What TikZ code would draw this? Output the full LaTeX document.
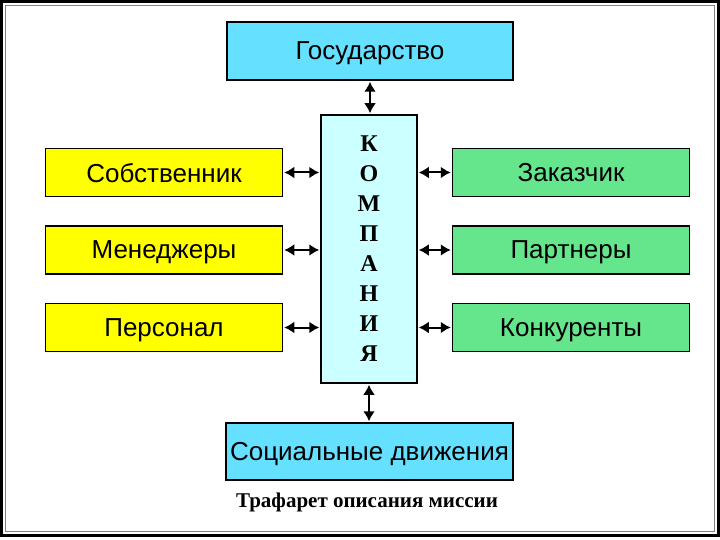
\documentclass[tikz,border=0pt]{standalone}
\usepackage{fontspec}
\setmainfont{Liberation Serif}
\setsansfont{Liberation Sans}
\usepackage{xcolor}
\usetikzlibrary{arrows.meta, positioning}

\definecolor{gosBlue}{RGB}{102,224,255}
\definecolor{kompBlue}{RGB}{204,255,255}
\definecolor{innerYellow}{RGB}{255,255,0}
\definecolor{outerGreen}{RGB}{102,230,140}

\begin{document}
\begin{tikzpicture}[x=1pt, y=-1pt, >={Latex[length=10pt,width=12pt]},
    box/.style={draw, line width=1.5pt, inner sep=0pt, text depth=0pt,
        font=\sffamily\fontsize{26}{28}\selectfont},
    side/.style={box, minimum width=237pt, minimum height=48pt},
    link/.style={<->, line width=2pt, shorten >=1pt, shorten <=1pt}]

    % =================================================================
    % 1. РАМКА СЛАЙДА
    % =================================================================
    \useasboundingbox (0,0) rectangle (720,540);
    \draw[line width=3pt] (1.5,1.5) rectangle (718.5,535.5);
    \draw[gray, line width=0.6pt] (5.5,5.5) rectangle (714.5,531.5);

    % =================================================================
    % 2. ЦЕНТР И ВЕРХ/НИЗ
    % =================================================================
    \node[box, fill=gosBlue, minimum width=286pt, minimum height=58pt] (gos) at (370,51) {Государство};
    \node[box, fill=kompBlue, minimum width=96pt, minimum height=268pt,
        align=center, font=\bfseries\fontsize{24}{30}\selectfont] (komp) at (369,249)
        {К\\О\\М\\П\\А\\Н\\И\\Я};
    \node[box, fill=gosBlue, minimum width=287pt, minimum height=57pt] (soc) at (369.5,451.5) {Социальные движения};

    % =================================================================
    % 3. ЛЕВЫЕ И ПРАВЫЕ БЛОКИ
    % =================================================================
    \node[side, fill=innerYellow] (sob) at (164,172.5) {Собственник};
    \node[side, fill=innerYellow] (men) at (164,250) {Менеджеры};
    \node[side, fill=innerYellow] (pers) at (164,327.5) {Персонал};

    \node[side, fill=outerGreen] (zak) at (571,172.5) {Заказчик};
    \node[side, fill=outerGreen] (part) at (571,250) {Партнеры};
    \node[side, fill=outerGreen] (konk) at (571,327.5) {Конкуренты};

    % =================================================================
    % 4. СТРЕЛКИ
    % =================================================================
    \draw[link] (gos.south) -- (gos.south |- komp.north);
    \draw[link] (komp.south) -- (komp.south |- soc.north);
    \foreach \n in {sob, men, pers} {
        \draw[link] (\n.east) -- (\n.east -| komp.west);
    }
    \foreach \n in {zak, part, konk} {
        \draw[link] (\n.west -| komp.east) -- (\n.west);
    }

    % Подпись
    \node[font=\bfseries\fontsize{21}{23}\selectfont] (caption) at (367,502) {Трафарет описания миссии};

\end{tikzpicture}
\end{document}
